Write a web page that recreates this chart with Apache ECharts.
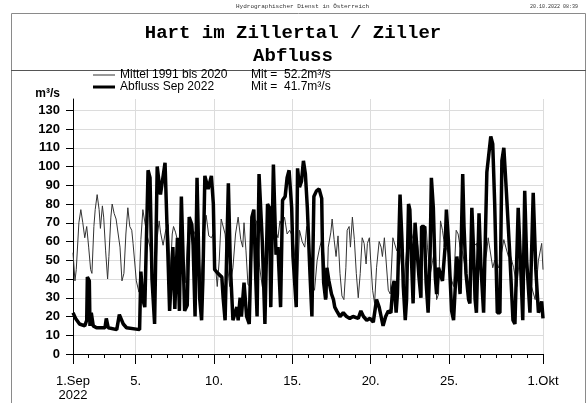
<!DOCTYPE html>
<html><head><meta charset="utf-8">
<script src="https://cdn.jsdelivr.net/npm/echarts@6/dist/echarts.min.js"></script>
<style>html,body{margin:0;padding:0;background:#fff}#c{width:586px;height:403px}</style>
</head><body><div id="c"></div>
<script>
const headerText = 'Hydrographischer Dienst in Österreich';
const stampText = '20.10.2022 08:39';
const titleMain = 'Hart im Zillertal / Ziller';
const titleSub = 'Abfluss';
const seriesNames = ['Mittel 1991 bis 2020', 'Abfluss Sep 2022'];
const seriesMeans = ['Mit =  52.2m³/s', 'Mit =  41.7m³/s'];
const unitName = 'm³/s';
const yTicks = [0, 10, 20, 30, 40, 50, 60, 70, 80, 90, 100, 110, 120, 130];
const xLabelHours = [0, 96, 216, 336, 456, 576, 720];
const xLabelTexts = ['1.Sep\n2022', '5.', '10.', '15.', '20.', '25.', '1.Okt'];
const dayTickHours = [0, 24, 48, 72, 96, 120, 144, 168, 192, 216, 240, 264, 288, 312, 336, 360, 384, 408, 432, 456, 480, 504, 528, 552, 576, 600, 624, 648, 672, 696, 720];

const mittelHours = [0, 3, 5, 9, 12, 15, 18, 21, 24, 27, 29, 32, 34, 37, 40, 42, 45, 47, 50, 53, 55, 58, 60, 63, 66, 69, 72, 75, 78, 81, 84, 87, 90, 92, 97, 101, 104, 107, 110, 113, 118, 123, 126, 129, 132, 134, 138, 142, 146, 149, 152, 154, 157, 160, 164, 168, 172, 176, 180, 184, 188, 192, 196, 200, 204, 208, 212, 215, 218, 221, 224, 227, 230, 233, 236, 240, 245, 249, 253, 257, 260, 262, 265, 268, 272, 276, 281, 286, 290, 294, 298, 302, 306, 310, 314, 317, 320, 324, 328, 332, 337, 342, 344, 347, 351, 355, 358, 362, 366, 370, 374, 378, 382, 386, 389, 391, 395, 397, 400, 403, 406, 409, 412, 415, 418, 420, 423, 425, 428, 431, 434, 437, 440, 443, 446, 449, 451, 454, 456, 459, 462, 465, 469, 472, 474, 477, 480, 483, 486, 490, 492, 496, 500, 504, 507, 511, 516, 520, 524, 528, 531, 534, 537, 541, 543, 547, 551, 555, 557, 560, 563, 566, 568, 571, 575, 577, 583, 587, 590, 593, 597, 603, 608, 613, 618, 623, 628, 634, 636, 639, 643, 646, 652, 657, 660, 663, 667, 669, 675, 680, 685, 690, 695, 700, 708, 713, 716, 718, 720];
const mittelValues = [54, 39, 45, 70, 77, 70, 62, 68, 57, 45, 43, 68, 77, 85, 77, 67, 79, 73, 55, 40, 52, 73, 80, 75, 72, 73, 57, 39, 43, 64, 78, 68, 66, 59, 39, 33, 61, 77, 78, 64, 57, 36, 33, 62, 71, 65, 58, 66, 69, 42, 64, 68, 65, 66, 55, 45, 38, 64, 70, 63, 66, 55, 38, 60, 74, 63, 62, 64, 48, 36, 50, 72, 73, 64, 50, 36, 46, 64, 73, 61, 57, 70, 55, 37, 36, 72, 71, 46, 36, 42, 66, 76, 72, 66, 62, 71, 68, 73, 64, 66, 62, 43, 40, 66, 60, 57, 68, 55, 38, 34, 50, 57, 62, 45, 30, 57, 65, 72, 61, 52, 63, 43, 31, 29, 46, 66, 68, 57, 73, 61, 43, 30, 43, 62, 59, 48, 59, 62, 50, 34, 27, 46, 60, 57, 52, 62, 48, 34, 32, 62, 62, 55, 58, 45, 38, 55, 60, 62, 68, 58, 45, 55, 68, 68, 57, 42, 50, 57, 29, 32, 71, 66, 61, 57, 54, 43, 36, 66, 64, 57, 54, 41, 36, 57, 59, 52, 43, 55, 62, 61, 46, 50, 46, 55, 61, 57, 52, 54, 46, 36, 55, 46, 46, 39, 29, 50, 50, 59, 45];

const abflussHours = [0, 4, 10, 18, 21, 22, 25, 26, 28, 31, 36, 49, 51, 54, 67, 71, 77, 82, 102, 104, 107, 110, 115, 118, 121, 125, 129, 134, 136, 141, 146, 148, 153, 156, 160, 163, 166, 171, 175, 178, 182, 184, 187, 190, 194, 197, 199, 202, 207, 212, 215, 217, 222, 228, 230, 233, 238, 241, 245, 251, 253, 256, 258, 262, 266, 270, 274, 277, 280, 282, 285, 288, 290, 294, 298, 301, 303, 307, 311, 314, 318, 321, 325, 328, 331, 335, 337, 342, 344, 347, 350, 353, 356, 359, 363, 366, 369, 373, 377, 381, 382, 384, 387, 389, 392, 396, 399, 401, 404, 406, 409, 414, 419, 424, 429, 437, 441, 445, 450, 455, 460, 465, 469, 472, 475, 479, 483, 487, 490, 492, 495, 497, 501, 504, 506, 509, 511, 514, 516, 519, 521, 524, 527, 530, 533, 534, 538, 541, 544, 547, 549, 552, 555, 557, 560, 563, 566, 570, 572, 575, 578, 580, 583, 585, 588, 590, 593, 597, 599, 602, 606, 608, 611, 613, 616, 618, 622, 625, 629, 631, 634, 637, 640, 643, 646, 650, 654, 657, 660, 664, 669, 674, 677, 682, 686, 689, 692, 695, 700, 705, 709, 713, 716, 718, 720];
const abflussValues = [22, 19, 16, 15, 18, 41, 39, 15, 22, 15, 14, 14, 19, 14, 13, 21, 16, 14, 13, 44, 29, 25, 98, 94, 40, 16, 100, 85, 86, 102, 46, 23, 57, 24, 62, 23, 84, 23, 26, 73, 69, 58, 20, 94, 30, 18, 40, 95, 88, 95, 80, 45, 43, 41, 30, 18, 91, 48, 18, 25, 18, 30, 20, 38, 20, 16, 73, 77, 40, 20, 96, 96, 60, 16, 80, 78, 25, 101, 53, 57, 25, 82, 84, 94, 98, 78, 52, 25, 99, 89, 92, 103, 96, 78, 43, 20, 84, 87, 88, 83, 60, 38, 29, 46, 39, 32, 29, 25, 23, 22, 20, 22, 20, 19, 20, 19, 23, 20, 18, 19, 17, 29, 25, 20, 15, 20, 23, 22, 36, 39, 22, 32, 85, 60, 36, 18, 29, 80, 77, 46, 27, 70, 71, 41, 30, 68, 68, 38, 22, 52, 94, 78, 41, 32, 46, 46, 39, 57, 77, 61, 38, 23, 18, 18, 52, 46, 32, 96, 68, 43, 29, 27, 78, 61, 29, 22, 75, 46, 22, 23, 97, 98, 116, 112, 80, 22, 22, 103, 110, 86, 54, 18, 16, 78, 45, 18, 87, 50, 22, 86, 45, 22, 25, 28, 19];

const mittelData = mittelHours.map((h, i) => [h, mittelValues[i]]);
const abflussData = abflussHours.map((h, i) => [h, abflussValues[i]]);

const chart = echarts.init(document.getElementById('c'), null, {renderer: 'canvas'});
const sans = 'Liberation Sans, Arial, sans-serif';
const mono = 'Liberation Mono, Courier New, monospace';
chart.setOption({
  animation: false,
  backgroundColor: '#fff',
  title: [
    {text: headerText, left: 231, top: -2, textStyle: {fontFamily: mono, fontSize: 6, fontWeight: 'normal', color: '#333'}},
    {text: stampText, right: 3, top: -1, textStyle: {fontFamily: mono, fontSize: 5, fontWeight: 'normal', color: '#333'}},
    {text: titleMain, left: 'center', top: 19, textStyle: {fontFamily: mono, fontSize: 19, fontWeight: 'bold', color: '#000'}},
    {text: titleSub, left: 'center', top: 42, textStyle: {fontFamily: mono, fontSize: 19, fontWeight: 'bold', color: '#000'}}
  ],
  graphic: [
    {type: 'polyline', silent: true, shape: {points: [[11.5, 403], [11.5, 13.5], [585.5, 13.5], [585.5, 403]]}, style: {stroke: '#8a8a8a', fill: null, lineWidth: 1}},
    {type: 'line', silent: true, shape: {x1: 11, y1: 70.5, x2: 586, y2: 70.5}, style: {stroke: '#555', lineWidth: 1}}
  ],
  legend: {
    left: 93, top: 69, padding: 0, orient: 'vertical', itemWidth: 22, itemHeight: 12, itemGap: 0,
    data: [
      {name: seriesNames[0], icon: 'path://M0,0H22V1H0Z'},
      {name: seriesNames[1], icon: 'path://M0,0H22V3H0Z'}
    ],
    formatter: name => '{a|' + name + '}{b|' + seriesMeans[seriesNames.indexOf(name)] + '}',
    textStyle: {fontFamily: sans, fontSize: 12, color: '#000', lineHeight: 12,
      rich: {a: {width: 131, fontSize: 12, fontFamily: sans, color: '#000'}, b: {fontSize: 12, fontFamily: sans, color: '#000'}}}
  },
  grid: {left: 73, top: 99, width: 470, height: 255},
  xAxis: [
    {
      type: 'value', min: 0, max: 720,
      axisLine: {show: true, lineStyle: {color: '#000', width: 1}},
      axisTick: {show: true, customValues: xLabelHours, length: 10, lineStyle: {color: '#000'}},
      axisLabel: {customValues: xLabelHours, formatter: v => xLabelTexts[xLabelHours.indexOf(v)] || '',
        fontFamily: sans, fontSize: 13, color: '#000', margin: 20, lineHeight: 14, showMinLabel: true, showMaxLabel: true},
      splitLine: {show: true, lineStyle: {color: '#dcdcdc', width: 1}}
    },
    {
      type: 'value', min: 0, max: 720, position: 'bottom',
      axisLine: {show: false},
      axisTick: {show: true, customValues: dayTickHours, length: 4, lineStyle: {color: '#000'}},
      axisLabel: {show: false},
      splitLine: {show: false}
    }
  ],
  yAxis: {
    type: 'value', min: 0, max: 136, interval: 10,
    axisLine: {show: true, lineStyle: {color: '#000', width: 1}},
    axisTick: {show: true, customValues: yTicks, length: 7, lineStyle: {color: '#000'}},
    axisLabel: {customValues: yTicks, fontFamily: sans, fontWeight: 'bold', fontSize: 13, color: '#000', margin: 13},
    splitLine: {show: true, lineStyle: {color: '#dcdcdc', width: 1}},
    name: unitName, nameLocation: 'end', nameGap: -1,
    nameTextStyle: {fontFamily: sans, fontWeight: 'bold', fontSize: 12, color: '#000', align: 'right', padding: [0, 13, 0, 0]}
  },
  series: [
    {type: 'line', name: seriesNames[0], xAxisIndex: 0, data: mittelData, symbol: 'none', z: 2,
      lineStyle: {width: 1, color: '#333'}, itemStyle: {color: '#333'}},
    {type: 'line', name: seriesNames[1], xAxisIndex: 0, data: abflussData, symbol: 'none', z: 3,
      lineStyle: {width: 3.5, color: '#000'}, itemStyle: {color: '#000'}}
  ]
});
</script></body></html>
